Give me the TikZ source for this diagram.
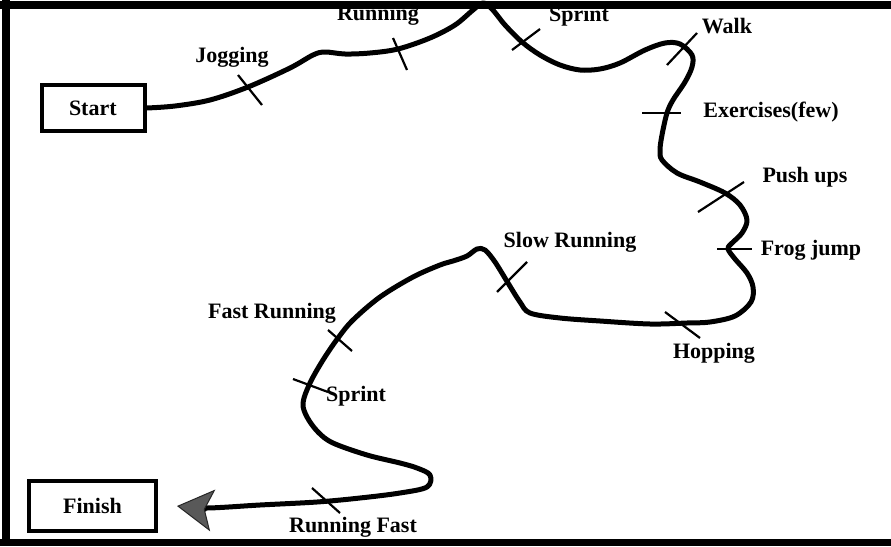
\documentclass[tikz,border=0pt]{standalone}
\usepackage{fontspec}
\setmainfont{Liberation Serif}
\usetikzlibrary{arrows.meta}
\tikzset{
  lbl/.style={anchor=base, inner sep=0pt, font=\bfseries\fontsize{22}{26}\selectfont},
  boxnode/.style={draw, line width=4pt, inner sep=0pt, font=\bfseries\fontsize{22}{26}\selectfont},
  route/.style={line width=5pt, line cap=round, line join=round},
  tick/.style={line width=2.2pt},
  bar/.style={fill=black, draw=none}
}
\begin{document}
\begin{tikzpicture}[x=1pt, y=-1pt]
\useasboundingbox (0,0) rectangle (891,546);
\fill[white] (-10,-10) rectangle (901,556);
\begin{scope}
\clip (0,0) rectangle (891,546);
% boxes
\node[boxnode, minimum width=103pt, minimum height=46pt, text width=99pt, align=left] (start) at (93.5,108) {\hspace*{25pt}Start};
\node[boxnode, minimum width=127pt, minimum height=50pt] (finish) at (92.5,506) {Finish};
\coordinate (tipend) at ([xshift=19pt]finish.east);
% labels
\node[lbl] (ljog) at (232,62) {Jogging};
\node[lbl] (lrun) at (378,20) {Running};
\node[lbl] (lspr1) at (579,21) {Sprint};
\node[lbl] (lwalk) at (727,33) {Walk};
\node[lbl] (lexe) at (771,117) {Exercises(few)};
\node[lbl] (lpush) at (805,182) {Push ups};
\node[lbl] (lfrog) at (811,255) {Frog jump};
\node[lbl] (lhop) at (714,358) {Hopping};
\node[lbl] (lslow) at (570,247) {Slow Running};
\node[lbl] (lfast) at (272,318) {Fast Running};
\node[lbl] (lspr2) at (356,401) {Sprint};
\node[lbl] (lrf) at (353,532) {Running Fast};
% route
\draw[route, -{Stealth[length=36pt, width=42pt, inset=8pt, fill=black!65, color=black!85, line width=1pt]}]
  plot[smooth, tension=0.55] coordinates {
  (start.east) (175,106) (210,100) (248,87) (290,68) (313,55) (325,52) (345,54) (370,53)
  (398,49) (430,38) (455,25) (473,10) (483,3) (492,9) (505,25) (522,42) (540,55)
  (560,65) (580,70) (600,69) (620,63) (645,50) (665,43) (680,44) (692,55) (692,67)
  (685,82) (673,100) (667,113) (662,135) (660,150) (662,160) (677,173) (700,182)
  (725,193) (740,205) (747,220) (742,233) (731,244) (728,249) (735,259) (747,273)
  (753,287) (751,302) (735,316) (710,322) (687,323) (650,324) (600,321) (560,318)
  (530,313) (520,302) (508,283) (495,262) (485,250) (477,249) (467,256) (453,261)
  (440,265) (413,277) (380,297) (353,320) (338,338) (323,360) (310,383) (303,403)
  (307,417) (318,432) (333,443) (367,455) (400,463) (417,468) (430,475) (427,487)
  (400,493) (360,498) (317,502) (260,505) (207,508) (tipend)};
% ticks
\draw[tick] (238,75) -- (262,105);
\draw[tick] (393,38) -- (407,70);
\draw[tick] (512,50) -- (540,29);
\draw[tick] (667,65) -- (697,33);
\draw[tick] (642,113) -- (681,113);
\draw[tick] (698,212) -- (744,182);
\draw[tick] (717,249) -- (752,249);
\draw[tick] (665,312) -- (700,338);
\draw[tick] (497,292) -- (527,262);
\draw[tick] (328,330) -- (352,351);
\draw[tick] (293,379) -- (328,392);
\draw[tick] (312,488) -- (340,513);
% frame bars
\fill[bar] (0,1) rectangle (891,9);
\fill[bar] (2,0) rectangle (10,546);
\fill[bar] (0,539) rectangle (891,546);
\end{scope}
\end{tikzpicture}
\end{document}
